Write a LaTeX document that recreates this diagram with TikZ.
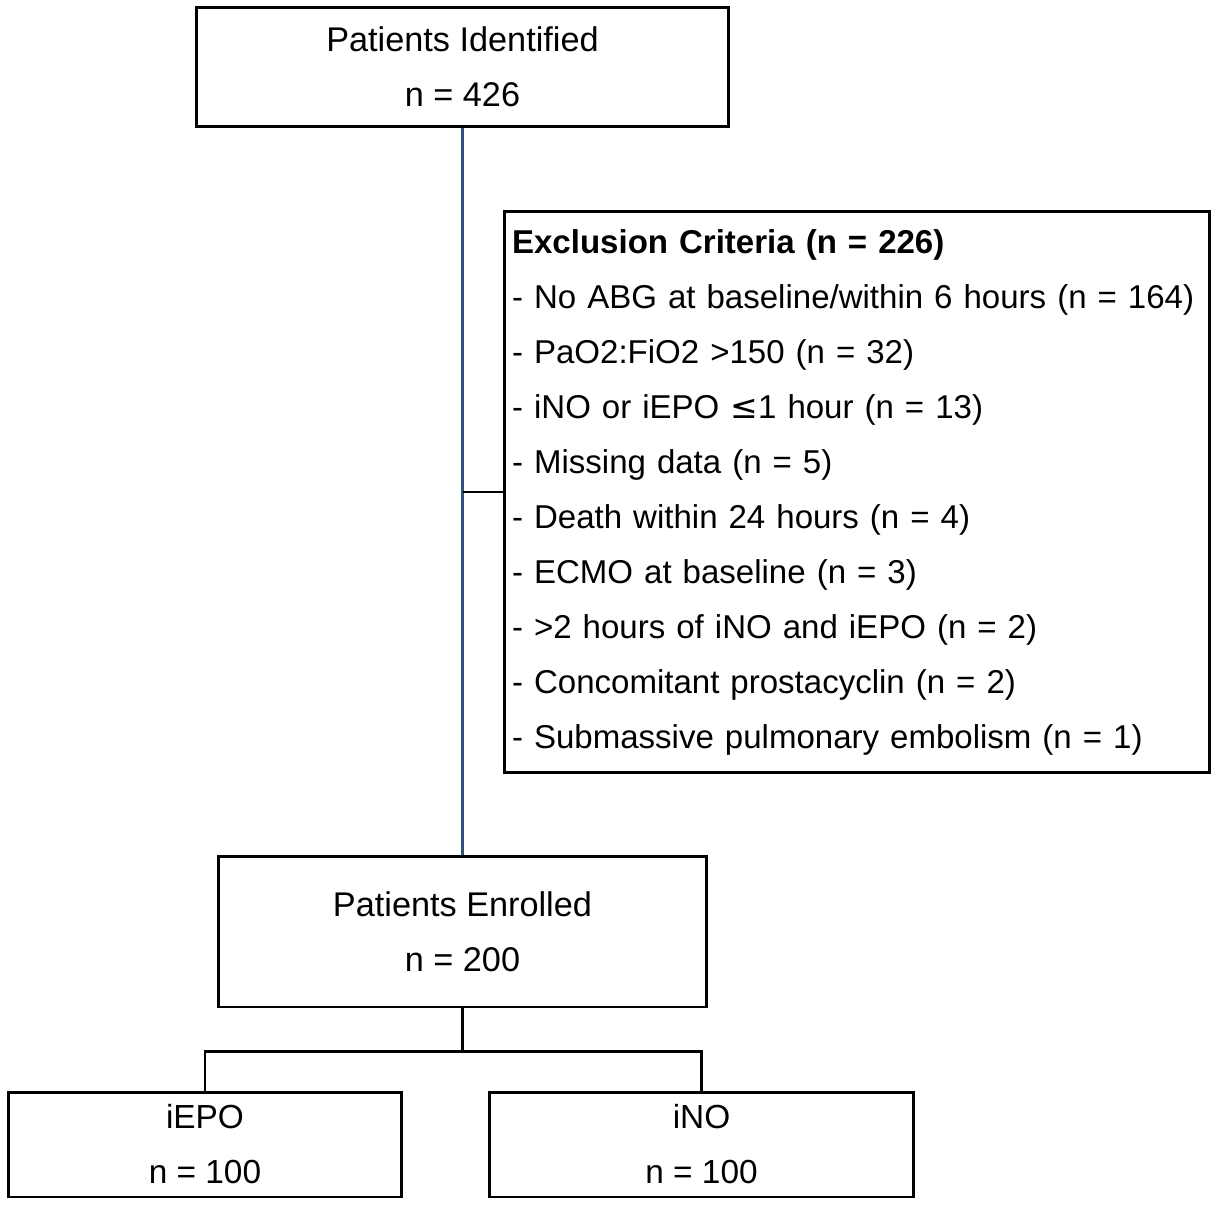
\documentclass[tikz,border=0pt]{standalone}
\usepackage{fontspec}
\setmainfont{Liberation Sans}
\usetikzlibrary{calc}
\definecolor{color_flow_line}{HTML}{2E5577}
\tikzset{
    flowbox/.style={draw=black, line width=1.7pt, align=center, inner sep=0pt,
        font=\fontsize{19}{31.3}\selectfont},
    flowlink/.style={draw=black, line width=1.6pt, line join=miter},
}

\begin{document}
\begin{tikzpicture}[x=0.02cm, y=-0.02cm]
        \useasboundingbox (0,0) rectangle (1216,1206);
        % boxes
        \node[flowbox, minimum width=10.66cm, minimum height=2.4cm, font=\fontsize{19.5}{31.3}\selectfont] (ident) at (462.5,67) {Patients Identified\\n = 426};
        \node[flowbox, minimum width=14.12cm, minimum height=11.24cm, align=left, text width=13.8cm, inner xsep=0.16cm,
            font=\fontsize{18.8}{31.3}\selectfont] (excl) at (857,492)
            {\textbf{Exclusion Criteria (n = 226)}\\
             - No ABG at baseline/within 6 hours (n = 164)\\
             - PaO2:FiO2 >150 (n = 32)\\
             - iNO or iEPO {\fontspec{DejaVu Sans}≤}1 hour (n = 13)\\
             - Missing data (n = 5)\\
             - Death within 24 hours (n = 4)\\
             - ECMO at baseline (n = 3)\\
             - >2 hours of iNO and iEPO (n = 2)\\
             - Concomitant prostacyclin (n = 2)\\
             - Submassive pulmonary embolism (n = 1)};
        \node[flowbox, minimum width=9.78cm, minimum height=3.02cm, font=\fontsize{19.5}{31.3}\selectfont] (enrol) at (462.5,931.5) {Patients Enrolled\\n = 200};
        \node[flowbox, minimum width=7.88cm, minimum height=2.1cm] (iepo) at (205,1144.5) {iEPO\\n = 100};
        \node[flowbox, minimum width=8.5cm, minimum height=2.1cm] (ino) at (701.5,1144.5) {iNO\\n = 100};
        % connectors
        \draw[line width=1.6pt, color_flow_line] (ident.south) -- (enrol.north);
        \coordinate (branch) at (ident.south |- excl.west);
        \draw[flowlink] (branch) -- (excl.west);
        \coordinate (split) at ($(enrol.south)+(0,43)$);
        \draw[flowlink] (enrol.south) -- (split);
        \draw[flowlink] (iepo.north) |- (split) -| (ino.north);
\end{tikzpicture}
\end{document}
